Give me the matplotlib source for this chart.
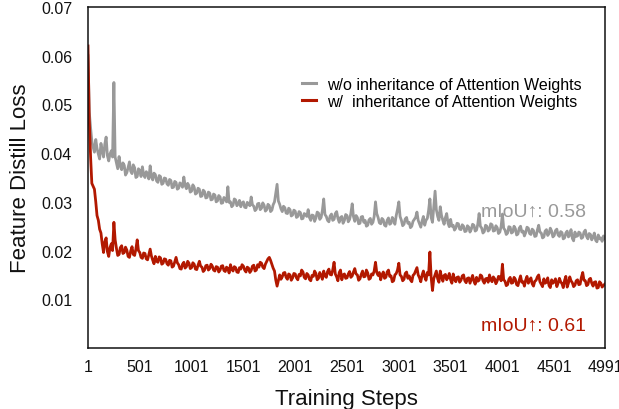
import matplotlib
matplotlib.use("Agg")
import matplotlib.pyplot as plt

plt.rcParams['font.family'] = ['Liberation Sans', 'DejaVu Sans']

steps = sorted(list(range(1, 4977, 25)) + list(range(13, 4992, 25)))

loss_without = [
    0.0600, 0.0485, 0.0452, 0.0425, 0.0412, 0.0402, 0.0428, 0.0410, 0.0398, 0.0388, 0.0420, 0.0405, 0.0392, 0.0418, 0.0433, 0.0395, 0.0384, 0.0398, 0.0405, 0.0392,
    0.0545, 0.0392, 0.0380, 0.0368, 0.0393, 0.0374, 0.0366, 0.0380, 0.0375, 0.0355, 0.0360, 0.0371, 0.0382, 0.0363, 0.0358, 0.0376, 0.0370, 0.0350, 0.0352, 0.0368,
    0.0364, 0.0352, 0.0372, 0.0356, 0.0350, 0.0362, 0.0358, 0.0347, 0.0374, 0.0352, 0.0345, 0.0359, 0.0356, 0.0343, 0.0340, 0.0354, 0.0352, 0.0336, 0.0338, 0.0349,
    0.0348, 0.0337, 0.0334, 0.0346, 0.0344, 0.0329, 0.0330, 0.0342, 0.0340, 0.0326, 0.0328, 0.0339, 0.0336, 0.0330, 0.0351, 0.0334, 0.0327, 0.0338, 0.0333, 0.0320,
    0.0322, 0.0335, 0.0330, 0.0316, 0.0318, 0.0328, 0.0326, 0.0311, 0.0312, 0.0324, 0.0321, 0.0308, 0.0309, 0.0320, 0.0318, 0.0304, 0.0305, 0.0316, 0.0314, 0.0300,
    0.0302, 0.0313, 0.0310, 0.0297, 0.0298, 0.0309, 0.0306, 0.0300, 0.0331, 0.0299, 0.0300, 0.0290, 0.0293, 0.0306, 0.0304, 0.0292, 0.0296, 0.0303, 0.0290, 0.0298,
    0.0300, 0.0289, 0.0288, 0.0299, 0.0296, 0.0292, 0.0310, 0.0294, 0.0291, 0.0282, 0.0285, 0.0296, 0.0297, 0.0284, 0.0287, 0.0298, 0.0293, 0.0281, 0.0284, 0.0295,
    0.0292, 0.0280, 0.0283, 0.0294, 0.0300, 0.0318, 0.0336, 0.0302, 0.0295, 0.0286, 0.0280, 0.0291, 0.0288, 0.0277, 0.0276, 0.0287, 0.0284, 0.0271, 0.0273, 0.0283,
    0.0281, 0.0268, 0.0270, 0.0280, 0.0278, 0.0265, 0.0266, 0.0276, 0.0274, 0.0270, 0.0284, 0.0268, 0.0262, 0.0273, 0.0272, 0.0260, 0.0267, 0.0279, 0.0277, 0.0264,
    0.0268, 0.0282, 0.0306, 0.0274, 0.0270, 0.0262, 0.0259, 0.0271, 0.0275, 0.0262, 0.0264, 0.0276, 0.0280, 0.0266, 0.0258, 0.0268, 0.0270, 0.0256, 0.0262, 0.0274,
    0.0272, 0.0259, 0.0264, 0.0276, 0.0296, 0.0270, 0.0260, 0.0272, 0.0268, 0.0255, 0.0256, 0.0269, 0.0270, 0.0258, 0.0262, 0.0250, 0.0252, 0.0263, 0.0266, 0.0254,
    0.0258, 0.0270, 0.0300, 0.0276, 0.0268, 0.0257, 0.0255, 0.0266, 0.0263, 0.0252, 0.0250, 0.0262, 0.0267, 0.0254, 0.0256, 0.0268, 0.0262, 0.0254, 0.0272, 0.0284,
    0.0300, 0.0270, 0.0262, 0.0251, 0.0254, 0.0265, 0.0268, 0.0256, 0.0258, 0.0247, 0.0250, 0.0260, 0.0264, 0.0268, 0.0279, 0.0262, 0.0255, 0.0248, 0.0261, 0.0270,
    0.0252, 0.0262, 0.0266, 0.0282, 0.0306, 0.0268, 0.0258, 0.0290, 0.0322, 0.0284, 0.0270, 0.0262, 0.0290, 0.0272, 0.0262, 0.0254, 0.0268, 0.0276, 0.0256, 0.0249,
    0.0264, 0.0250, 0.0252, 0.0242, 0.0246, 0.0256, 0.0255, 0.0244, 0.0243, 0.0253, 0.0250, 0.0239, 0.0240, 0.0251, 0.0248, 0.0238, 0.0244, 0.0254, 0.0252, 0.0240,
    0.0242, 0.0254, 0.0276, 0.0250, 0.0246, 0.0236, 0.0239, 0.0252, 0.0250, 0.0240, 0.0243, 0.0255, 0.0253, 0.0240, 0.0241, 0.0251, 0.0247, 0.0235, 0.0238, 0.0249,
    0.0275, 0.0246, 0.0242, 0.0233, 0.0236, 0.0249, 0.0248, 0.0236, 0.0238, 0.0250, 0.0245, 0.0232, 0.0234, 0.0246, 0.0250, 0.0238, 0.0240, 0.0230, 0.0237, 0.0248,
    0.0246, 0.0235, 0.0233, 0.0244, 0.0241, 0.0229, 0.0230, 0.0242, 0.0252, 0.0238, 0.0236, 0.0226, 0.0228, 0.0240, 0.0243, 0.0231, 0.0235, 0.0246, 0.0240, 0.0228,
    0.0231, 0.0241, 0.0244, 0.0232, 0.0229, 0.0239, 0.0237, 0.0224, 0.0226, 0.0236, 0.0240, 0.0228, 0.0232, 0.0243, 0.0225, 0.0220, 0.0238, 0.0229, 0.0230, 0.0238,
    0.0236, 0.0225, 0.0227, 0.0238, 0.0242, 0.0229, 0.0224, 0.0235, 0.0233, 0.0222, 0.0228, 0.0236, 0.0221, 0.0218, 0.0232, 0.0224, 0.0226, 0.0219, 0.0230, 0.0225,
]

loss_with = [
    0.0620, 0.0470, 0.0392, 0.0338, 0.0332, 0.0326, 0.0300, 0.0272, 0.0262, 0.0244, 0.0236, 0.0214, 0.0196, 0.0218, 0.0226, 0.0198, 0.0188, 0.0206, 0.0214, 0.0200,
    0.0258, 0.0222, 0.0204, 0.0190, 0.0192, 0.0206, 0.0210, 0.0194, 0.0196, 0.0207, 0.0201, 0.0188, 0.0186, 0.0199, 0.0208, 0.0192, 0.0190, 0.0203, 0.0222, 0.0200,
    0.0196, 0.0186, 0.0184, 0.0195, 0.0194, 0.0183, 0.0181, 0.0192, 0.0203, 0.0189, 0.0180, 0.0173, 0.0188, 0.0178, 0.0176, 0.0187, 0.0185, 0.0172, 0.0174, 0.0183,
    0.0182, 0.0173, 0.0170, 0.0180, 0.0179, 0.0166, 0.0168, 0.0177, 0.0186, 0.0175, 0.0171, 0.0163, 0.0162, 0.0172, 0.0176, 0.0164, 0.0167, 0.0178, 0.0174, 0.0163,
    0.0165, 0.0175, 0.0172, 0.0162, 0.0161, 0.0170, 0.0178, 0.0168, 0.0166, 0.0157, 0.0160, 0.0169, 0.0170, 0.0160, 0.0163, 0.0172, 0.0168, 0.0160, 0.0158, 0.0167,
    0.0166, 0.0156, 0.0160, 0.0168, 0.0169, 0.0159, 0.0157, 0.0166, 0.0163, 0.0154, 0.0171, 0.0162, 0.0158, 0.0167, 0.0165, 0.0156, 0.0155, 0.0165, 0.0162, 0.0171,
    0.0168, 0.0160, 0.0156, 0.0166, 0.0164, 0.0155, 0.0159, 0.0168, 0.0170, 0.0158, 0.0160, 0.0171, 0.0166, 0.0176, 0.0174, 0.0166, 0.0163, 0.0172, 0.0178, 0.0183,
    0.0186, 0.0180, 0.0172, 0.0164, 0.0158, 0.0140, 0.0127, 0.0138, 0.0150, 0.0141, 0.0146, 0.0154, 0.0155, 0.0145, 0.0141, 0.0152, 0.0150, 0.0139, 0.0144, 0.0153,
    0.0152, 0.0144, 0.0140, 0.0151, 0.0148, 0.0160, 0.0156, 0.0145, 0.0142, 0.0153, 0.0150, 0.0141, 0.0138, 0.0149, 0.0147, 0.0158, 0.0153, 0.0140, 0.0143, 0.0155,
    0.0149, 0.0141, 0.0158, 0.0148, 0.0145, 0.0157, 0.0162, 0.0151, 0.0150, 0.0160, 0.0176, 0.0152, 0.0146, 0.0138, 0.0155, 0.0160, 0.0140, 0.0150, 0.0152, 0.0143,
    0.0144, 0.0152, 0.0157, 0.0145, 0.0148, 0.0156, 0.0163, 0.0152, 0.0150, 0.0139, 0.0142, 0.0151, 0.0158, 0.0146, 0.0147, 0.0160, 0.0154, 0.0141, 0.0143, 0.0152,
    0.0150, 0.0158, 0.0176, 0.0155, 0.0149, 0.0155, 0.0140, 0.0150, 0.0156, 0.0143, 0.0145, 0.0156, 0.0160, 0.0147, 0.0148, 0.0136, 0.0138, 0.0150, 0.0153, 0.0160,
    0.0174, 0.0150, 0.0147, 0.0138, 0.0141, 0.0153, 0.0156, 0.0143, 0.0148, 0.0140, 0.0136, 0.0149, 0.0152, 0.0158, 0.0165, 0.0150, 0.0144, 0.0136, 0.0150, 0.0158,
    0.0146, 0.0139, 0.0155, 0.0150, 0.0197, 0.0145, 0.0118, 0.0142, 0.0150, 0.0158, 0.0142, 0.0135, 0.0158, 0.0146, 0.0137, 0.0149, 0.0151, 0.0140, 0.0145, 0.0153,
    0.0140, 0.0133, 0.0152, 0.0142, 0.0136, 0.0145, 0.0146, 0.0135, 0.0139, 0.0148, 0.0150, 0.0138, 0.0134, 0.0143, 0.0144, 0.0133, 0.0141, 0.0149, 0.0137, 0.0131,
    0.0145, 0.0137, 0.0139, 0.0150, 0.0148, 0.0138, 0.0133, 0.0142, 0.0143, 0.0135, 0.0150, 0.0141, 0.0136, 0.0146, 0.0142, 0.0132, 0.0138, 0.0147, 0.0146, 0.0138,
    0.0172, 0.0140, 0.0137, 0.0128, 0.0130, 0.0141, 0.0145, 0.0133, 0.0134, 0.0145, 0.0141, 0.0130, 0.0128, 0.0139, 0.0148, 0.0135, 0.0136, 0.0127, 0.0140, 0.0147,
    0.0133, 0.0139, 0.0144, 0.0132, 0.0127, 0.0137, 0.0139, 0.0146, 0.0150, 0.0136, 0.0131, 0.0126, 0.0142, 0.0133, 0.0135, 0.0144, 0.0128, 0.0124, 0.0140, 0.0133,
    0.0136, 0.0142, 0.0126, 0.0133, 0.0143, 0.0136, 0.0132, 0.0124, 0.0139, 0.0147, 0.0125, 0.0133, 0.0146, 0.0138, 0.0134, 0.0126, 0.0129, 0.0138, 0.0140, 0.0130,
    0.0131, 0.0145, 0.0155, 0.0139, 0.0138, 0.0128, 0.0130, 0.0141, 0.0143, 0.0133, 0.0127, 0.0135, 0.0136, 0.0123, 0.0124, 0.0136, 0.0133, 0.0125, 0.0128, 0.0131,
]

series_labels = ["w/o inheritance of Attention Weights", "w/  inheritance of Attention Weights"]
miou_labels = ["mIoU\u2191: 0.58", "mIoU\u2191: 0.61"]
x_ticks = [1, 501, 1001, 1501, 2001, 2501, 3001, 3501, 4001, 4501, 4991]
y_ticks = [0.01, 0.02, 0.03, 0.04, 0.05, 0.06, 0.07]

gray = "#999999"
red = "#b21800"

fig = plt.figure(figsize=(6.19, 4.10), dpi=100)
ax = fig.add_axes([88 / 619, 61 / 410, 517 / 619, 341 / 410])

ax.plot(steps, loss_without, color=gray, lw=2.0, label=series_labels[0])
ax.plot(steps, loss_with, color=red, lw=2.0, label=series_labels[1])

ax.set_xlim(1, 4991)
ax.set_ylim(0, 0.07)
ax.set_xticks(x_ticks)
ax.set_xticklabels([str(t) for t in x_ticks])
ax.set_yticks(y_ticks)
ax.set_yticklabels([f"{t:.2f}" for t in y_ticks])
ax.tick_params(axis='both', length=0, labelsize=11.5, colors='#111111')
ax.tick_params(axis='y', pad=11.5)
ax.tick_params(axis='x', pad=8)

for s in ax.spines.values():
    s.set_color('#111111')
    s.set_linewidth(1.1)

ax.set_xlabel("Training Steps", fontsize=16, labelpad=10, color='#111111')
ax.set_ylabel("Feature Distill Loss", fontsize=16, labelpad=7, color='#111111')

leg = ax.legend(loc='upper left', bbox_to_anchor=((302 - 88) / 517, (349 - 78) / 341),
                frameon=False, fontsize=11.5, handlelength=0.85, handletextpad=0.7,
                borderpad=0, borderaxespad=0, labelspacing=0.12)
for h in leg.get_lines():
    h.set_linewidth(2.2)

ax.text((586 - 88) / 517, (349 - 212) / 341, miou_labels[0], transform=ax.transAxes,
        ha='right', va='center', fontsize=14, color=gray)
ax.text((586 - 88) / 517, (349 - 326) / 341, miou_labels[1], transform=ax.transAxes,
        ha='right', va='center', fontsize=14, color=red)

fig.savefig("out.png", dpi=100)
